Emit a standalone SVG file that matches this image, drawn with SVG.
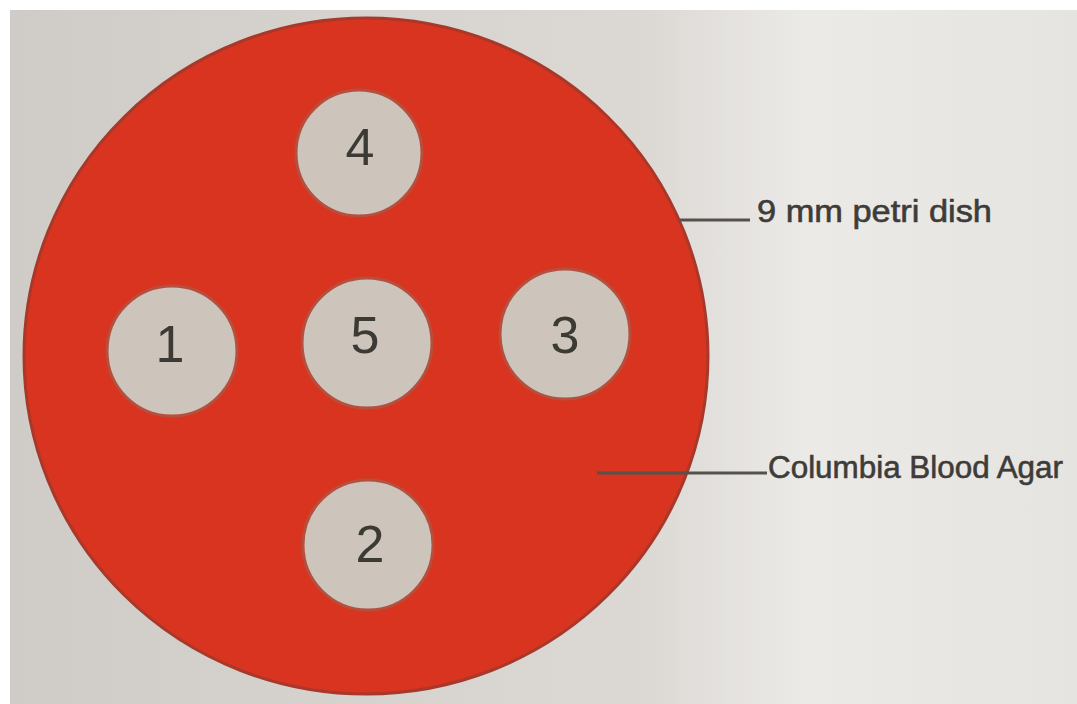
<svg xmlns="http://www.w3.org/2000/svg" width="1077" height="704" viewBox="0 0 1077 704">
  <defs>
    <linearGradient id="bg" x1="0" y1="0" x2="1" y2="0">
      <stop offset="0" stop-color="#cfcbc6"/>
      <stop offset="0.6" stop-color="#dcd9d5"/>
      <stop offset="0.75" stop-color="#eceae7"/>
      <stop offset="1" stop-color="#e6e4e1"/>
    </linearGradient>
    <style>
      .dish { fill: #d8341f; stroke: #a8382a; stroke-width: 3; }
      .well { fill: #cdc4bb; stroke: #b5503e; stroke-width: 3; }
      .num { font-family: "Liberation Sans", Arial, sans-serif; font-size: 52px; fill: #3c3a35; text-anchor: middle; }
      .lbl { font-family: "Liberation Sans", Arial, sans-serif; font-size: 31px; fill: #3e3c38; stroke: #3e3c38; stroke-width: 0.6; }
      .lead { stroke: #55524d; stroke-width: 3; fill: none; }
    </style>
  </defs>
  <rect x="0" y="0" width="1077" height="704" fill="url(#bg)"/>
  <rect x="0" y="0" width="1077" height="10" fill="#ffffff"/>
  <rect x="0" y="0" width="10" height="704" fill="#ffffff"/>

  <g id="dish">
    <ellipse class="dish" cx="366" cy="356" rx="342" ry="338"/>
  </g>

  <g id="well-4">
    <circle class="well" cx="359" cy="153" r="63"/>
    <text class="num" x="360" y="165">4</text>
  </g>
  <g id="well-1">
    <circle class="well" cx="172" cy="351" r="65"/>
    <text class="num" x="170" y="362">1</text>
  </g>
  <g id="well-5">
    <circle class="well" cx="367" cy="343" r="65"/>
    <text class="num" x="365" y="353">5</text>
  </g>
  <g id="well-3">
    <circle class="well" cx="565" cy="334" r="65"/>
    <text class="num" x="565" y="353">3</text>
  </g>
  <g id="well-2">
    <circle class="well" cx="368" cy="545" r="65"/>
    <text class="num" x="370" y="562">2</text>
  </g>

  <g id="connectors">
    <line class="lead" x1="680" y1="220" x2="750" y2="220"/>
    <line class="lead" x1="597" y1="473" x2="767" y2="473"/>
  </g>

  <g id="label-dish">
    <text class="lbl" x="757" y="222" textLength="235" lengthAdjust="spacingAndGlyphs">9 mm petri dish</text>
  </g>
  <g id="label-agar">
    <text class="lbl" x="768" y="478" textLength="295" lengthAdjust="spacingAndGlyphs">Columbia Blood Agar</text>
  </g>
</svg>
